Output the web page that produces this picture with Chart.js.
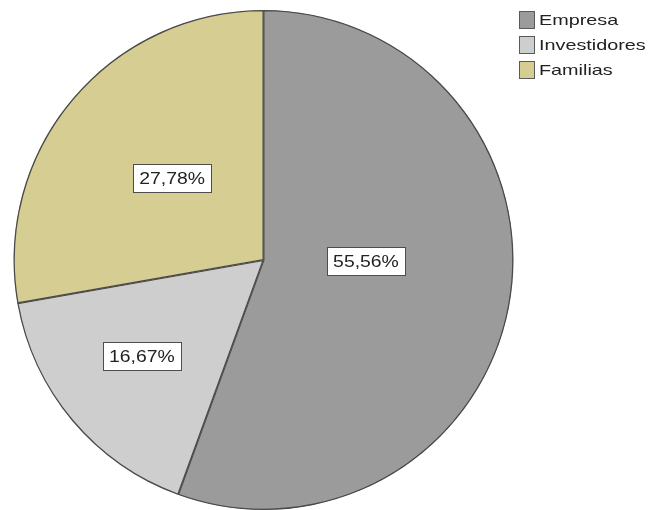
<!DOCTYPE html>
<html>
<head>
<meta charset="utf-8">
<script src="https://cdn.jsdelivr.net/npm/chart.js@4/dist/chart.umd.min.js"></script>
<style>
  html, body { margin: 0; padding: 0; background: #ffffff; }
  #wrap { width: 652px; height: 510px; }
</style>
</head>
<body>
<div id="wrap"><canvas id="c" width="652" height="510"></canvas></div>
<script>
// Categories and their shares (%)
const categories = ['Empresa', 'Investidores', 'Familias'];
const shares = [55.56, 16.67, 27.78];
const sliceColors = ['#9b9b9b', '#cecece', '#d6cd92'];

// Percentage labels in the Spanish decimal format
function fmtPct(v) {
  return v.toFixed(2).replace('.', ',') + '%';
}

// Boxed value labels placed inside each slice
const boxedLabels = {
  id: 'boxedLabels',
  afterDatasetsDraw(chart, args, opts) {
    const ctx = chart.ctx;
    const meta = chart.getDatasetMeta(0);
    ctx.save();
    ctx.font = opts.font;
    ctx.textBaseline = 'middle';
    ctx.textAlign = 'center';
    meta.data.forEach((arc, i) => {
      const p = arc.getProps(['x', 'y', 'startAngle', 'endAngle', 'outerRadius'], true);
      const mid = (p.startAngle + p.endAngle) / 2 + opts.turn[i];
      const r = p.outerRadius * opts.radial[i];
      const cx = p.x + Math.cos(mid) * r;
      const cy = p.y + Math.sin(mid) * r;
      const text = fmtPct(chart.data.datasets[0].data[i]);
      const tw = ctx.measureText(text).width * opts.stretch;
      const w = Math.round(tw + 12), h = 28;
      const x0 = Math.round(cx - w / 2) + 0.5, y0 = Math.round(cy - h / 2) + 0.5;
      ctx.fillStyle = '#ffffff';
      ctx.fillRect(x0, y0, w, h);
      ctx.strokeStyle = '#4d4d4d';
      ctx.lineWidth = 1;
      ctx.strokeRect(x0, y0, w, h);
      ctx.fillStyle = '#222222';
      ctx.save();
      ctx.translate(cx, cy + 1);
      ctx.scale(opts.stretch, 1);
      ctx.fillText(text, 0, 0);
      ctx.restore();
    });
    ctx.restore();
  }
};

// Legend drawn at the upper right corner
const cornerLegend = {
  id: 'cornerLegend',
  afterDraw(chart, args, opts) {
    const ctx = chart.ctx;
    const ds = chart.data.datasets[0];
    ctx.save();
    ctx.font = opts.font;
    ctx.textBaseline = 'middle';
    ctx.textAlign = 'left';
    chart.data.labels.forEach((lab, i) => {
      const y = opts.top + i * opts.step;
      ctx.fillStyle = ds.backgroundColor[i];
      ctx.fillRect(opts.left + 0.5, y + 0.5, opts.boxW, opts.boxH);
      ctx.strokeStyle = '#5a5a5a';
      ctx.lineWidth = 1;
      ctx.strokeRect(opts.left + 0.5, y + 0.5, opts.boxW, opts.boxH);
      ctx.fillStyle = '#222222';
      ctx.save();
      ctx.translate(opts.left + opts.boxW + 5, y + opts.boxH / 2 + 1);
      ctx.scale(opts.stretch, 1);
      ctx.fillText(lab, 0, 0);
      ctx.restore();
    });
    ctx.restore();
  }
};

new Chart(document.getElementById('c'), {
  type: 'pie',
  data: {
    labels: categories,
    datasets: [{
      data: shares,
      backgroundColor: sliceColors,
      borderColor: '#4a4a4a',
      borderWidth: 1,
      borderAlign: 'inner'
    }]
  },
  options: {
    responsive: false,
    animation: false,
    layout: { padding: { left: 13, right: 138, top: 10, bottom: 0 } },
    plugins: {
      legend: { display: false },
      tooltip: { enabled: false },
      boxedLabels: {
        font: '17px "Liberation Sans", Arial, sans-serif',
        stretch: 1.14,
        radial: [0.41, 0.62, 0.49],
        turn: [-0.16, 0.03, 0.03]
      },
      cornerLegend: {
        font: '15px "Liberation Sans", Arial, sans-serif',
        stretch: 1.32,
        left: 519, top: 11, step: 25, boxW: 15, boxH: 17
      }
    }
  },
  plugins: [boxedLabels, cornerLegend]
});
</script>
</body>
</html>
